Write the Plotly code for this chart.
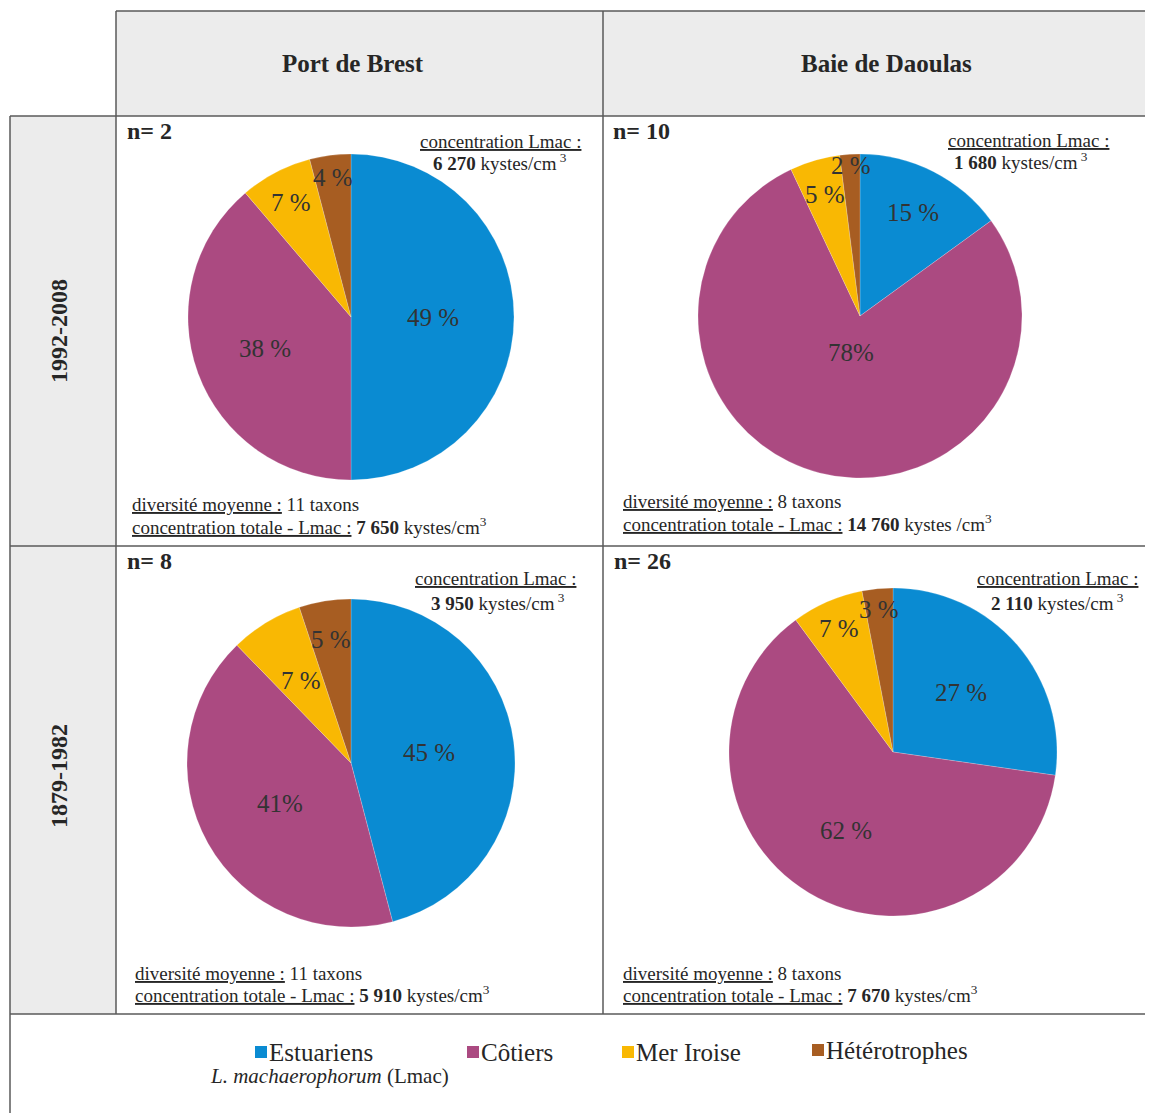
import math
import plotly.graph_objects as go

# page has an 8px body margin: figure is drawn 8px in from the window edges
OFF = 8
W, H = 1153 - OFF, 1113 - OFF

sites = ["Port de Brest", "Baie de Daoulas"]
periods = ["1992-2008", "1879-1982"]
categories = ["Estuariens", "Côtiers", "Mer Iroise", "Hétérotrophes"]
colors = ["#0a8bd2", "#ab4a81", "#f9b803", "#a75d22"]

pb_1992 = [49, 38, 7, 4]
bd_1992 = [15, 78, 5, 2]
pb_1879 = [45, 41, 7, 5]
bd_1879 = [27, 62, 7, 3]

pb_1992_txt = ["49 %", "38 %", "7 %", "4 %"]
bd_1992_txt = ["15 %", "78%", "5 %", "2 %"]
pb_1879_txt = ["45 %", "41%", "7 %", "5 %"]
bd_1879_txt = ["27 %", "62 %", "7 %", "3 %"]

n_samples = [2, 10, 8, 26]
conc_lmac = ["6 270", "1 680", "3 950", "2 110"]
diversity = [11, 8, 11, 8]
conc_total = ["7 650", "14 760", "5 910", "7 670"]
conc_unit = ["kystes/cm", "kystes /cm", "kystes/cm", "kystes/cm"]


def X(px):
    return (px - OFF) / W


def Y(py):
    return 1 - (py - OFF) / H


FONT = "Liberation Serif, Times New Roman, serif"
TXT = "#262626"

fig = go.Figure()
ann = []

# pie placement (center px, radius px) and label radial position (fraction of radius)
pies = [
    (pb_1992, pb_1992_txt, 351, 317, 163, [0.50, 0.56, 0.79, 0.86]),
    (bd_1992, bd_1992_txt, 860, 316, 162, [0.72, 0.23, 0.78, 0.93]),
    (pb_1879, pb_1879_txt, 351, 763, 164, [0.48, 0.50, 0.59, 0.76]),
    (bd_1879, bd_1879_txt, 893, 752, 164, [0.55, 0.56, 0.82, 0.87]),
]
for vals, txt, cx, cy, r, rf in pies:
    fig.add_trace(go.Pie(
        labels=categories, values=vals, text=txt, textinfo="none",
        sort=False, direction="clockwise", rotation=0,
        marker=dict(colors=colors, line=dict(color="rgba(255,255,255,0.4)", width=0.5)),
        domain=dict(x=[X(cx - r), X(cx + r)], y=[Y(cy + r), Y(cy - r)]),
        showlegend=False, hovertemplate="%{label}: %{text}<extra></extra>",
    ))
    total = float(sum(vals))
    cum = 0.0
    for v, t, f in zip(vals, txt, rf):
        mid = (cum + v / 2) / total * 2 * math.pi  # clockwise from 12 o'clock
        cum += v
        px = cx + f * r * math.sin(mid)
        py = cy - f * r * math.cos(mid)
        ann.append(dict(x=X(px), y=Y(py), text=t, showarrow=False,
                        font=dict(family=FONT, size=25, color="#333333"),
                        xanchor="center", yanchor="middle"))

shapes = []
LC = "#5a5a5a"
GRAY = "#ececec"
# gray cells
for x0, x1, y0, y1 in [(116, 603, 11, 116), (603, 1153, 11, 116), (10, 116, 116, 546), (10, 116, 546, 1014)]:
    shapes.append(dict(type="rect", xref="paper", yref="paper", x0=X(x0), x1=X(x1), y0=Y(y1), y1=Y(y0),
                       fillcolor=GRAY, line=dict(width=0), layer="below"))


def line(x0, y0, x1, y1):
    shapes.append(dict(type="line", xref="paper", yref="paper", x0=X(x0), y0=Y(y0), x1=X(x1), y1=Y(y1),
                       line=dict(color=LC, width=1.5)))


line(116, 11, 1153, 11)
line(10, 116, 1153, 116)
line(10, 546, 1153, 546)
line(10, 1014, 1153, 1014)
line(10, 116, 10, 1113)
line(116, 11, 116, 1014)
line(603, 11, 603, 1014)

# headers
for s, cx in zip(sites, [353, 886]):
    ann.append(dict(x=X(cx), y=Y(63), text="<b>%s</b>" % s, showarrow=False,
                    font=dict(family=FONT, size=25, color=TXT), xanchor="center", yanchor="middle"))
for p, cy in zip(periods, [331, 776]):
    ann.append(dict(x=X(59), y=Y(cy), text="<b>%s</b>" % p, showarrow=False, textangle=-90,
                    font=dict(family=FONT, size=24, color=TXT), xanchor="center", yanchor="middle"))

# cell texts
FS = 19
n_pos = [(125, 131), (611, 131), (125, 561), (612, 561)]
top_pos = [(500, 152, 21, 0), (1028, 151, 21, -7), (495, 590, 24, 3), (1057, 590, 24, 0)]
bot_pos = [(130, 515), (621, 512), (133, 983), (621, 983)]
for i in range(4):
    nx, ny = n_pos[i]
    ann.append(dict(x=X(nx), y=Y(ny), text="<b>n= %d</b>" % n_samples[i], showarrow=False,
                    font=dict(family=FONT, size=24, color=TXT), xanchor="left", yanchor="middle"))
    tx, ty, gap, dx2 = top_pos[i]
    ann.append(dict(x=X(tx), y=Y(ty - gap / 2), text="<u>concentration Lmac :</u>", showarrow=False,
                    font=dict(family=FONT, size=FS, color=TXT), xanchor="center", yanchor="middle"))
    ann.append(dict(x=X(tx + dx2), y=Y(ty + gap / 2), text="<b>%s</b> kystes/cm<sup> 3</sup>" % conc_lmac[i],
                    showarrow=False, font=dict(family=FONT, size=FS, color=TXT),
                    xanchor="center", yanchor="middle"))
    bx, by = bot_pos[i]
    ann.append(dict(x=X(bx), y=Y(by - 10), text="<u>diversité moyenne :</u> %d taxons" % diversity[i],
                    showarrow=False, font=dict(family=FONT, size=FS, color=TXT),
                    xanchor="left", yanchor="middle"))
    ann.append(dict(x=X(bx), y=Y(by + 11),
                    text="<u>concentration totale - Lmac :</u> <b>%s</b> %s<sup>3</sup>" % (conc_total[i], conc_unit[i]),
                    showarrow=False, font=dict(family=FONT, size=FS, color=TXT),
                    xanchor="left", yanchor="middle"))

# legend
leg_x = [255, 467, 622, 812]
leg_y = [1052, 1052, 1052, 1050]
for c, col, lx, ly in zip(categories, colors, leg_x, leg_y):
    shapes.append(dict(type="rect", xref="paper", yref="paper", x0=X(lx), x1=X(lx + 12),
                       y0=Y(ly + 6), y1=Y(ly - 6), fillcolor=col, line=dict(width=0)))
    ann.append(dict(x=X(lx + 12), y=Y(ly), text=c, showarrow=False,
                    font=dict(family=FONT, size=25, color=TXT), xanchor="left", yanchor="middle"))
ann.append(dict(x=X(329), y=Y(1076), text="<i>L. machaerophorum</i> (Lmac)", showarrow=False,
                font=dict(family=FONT, size=21, color=TXT), xanchor="center", yanchor="middle"))

fig.update_layout(
    width=W, height=H, margin=dict(l=0, r=0, t=0, b=0),
    paper_bgcolor="white", plot_bgcolor="white",
    shapes=shapes, annotations=ann,
    font=dict(family=FONT, color=TXT),
)

fig.write_html("out.html")
